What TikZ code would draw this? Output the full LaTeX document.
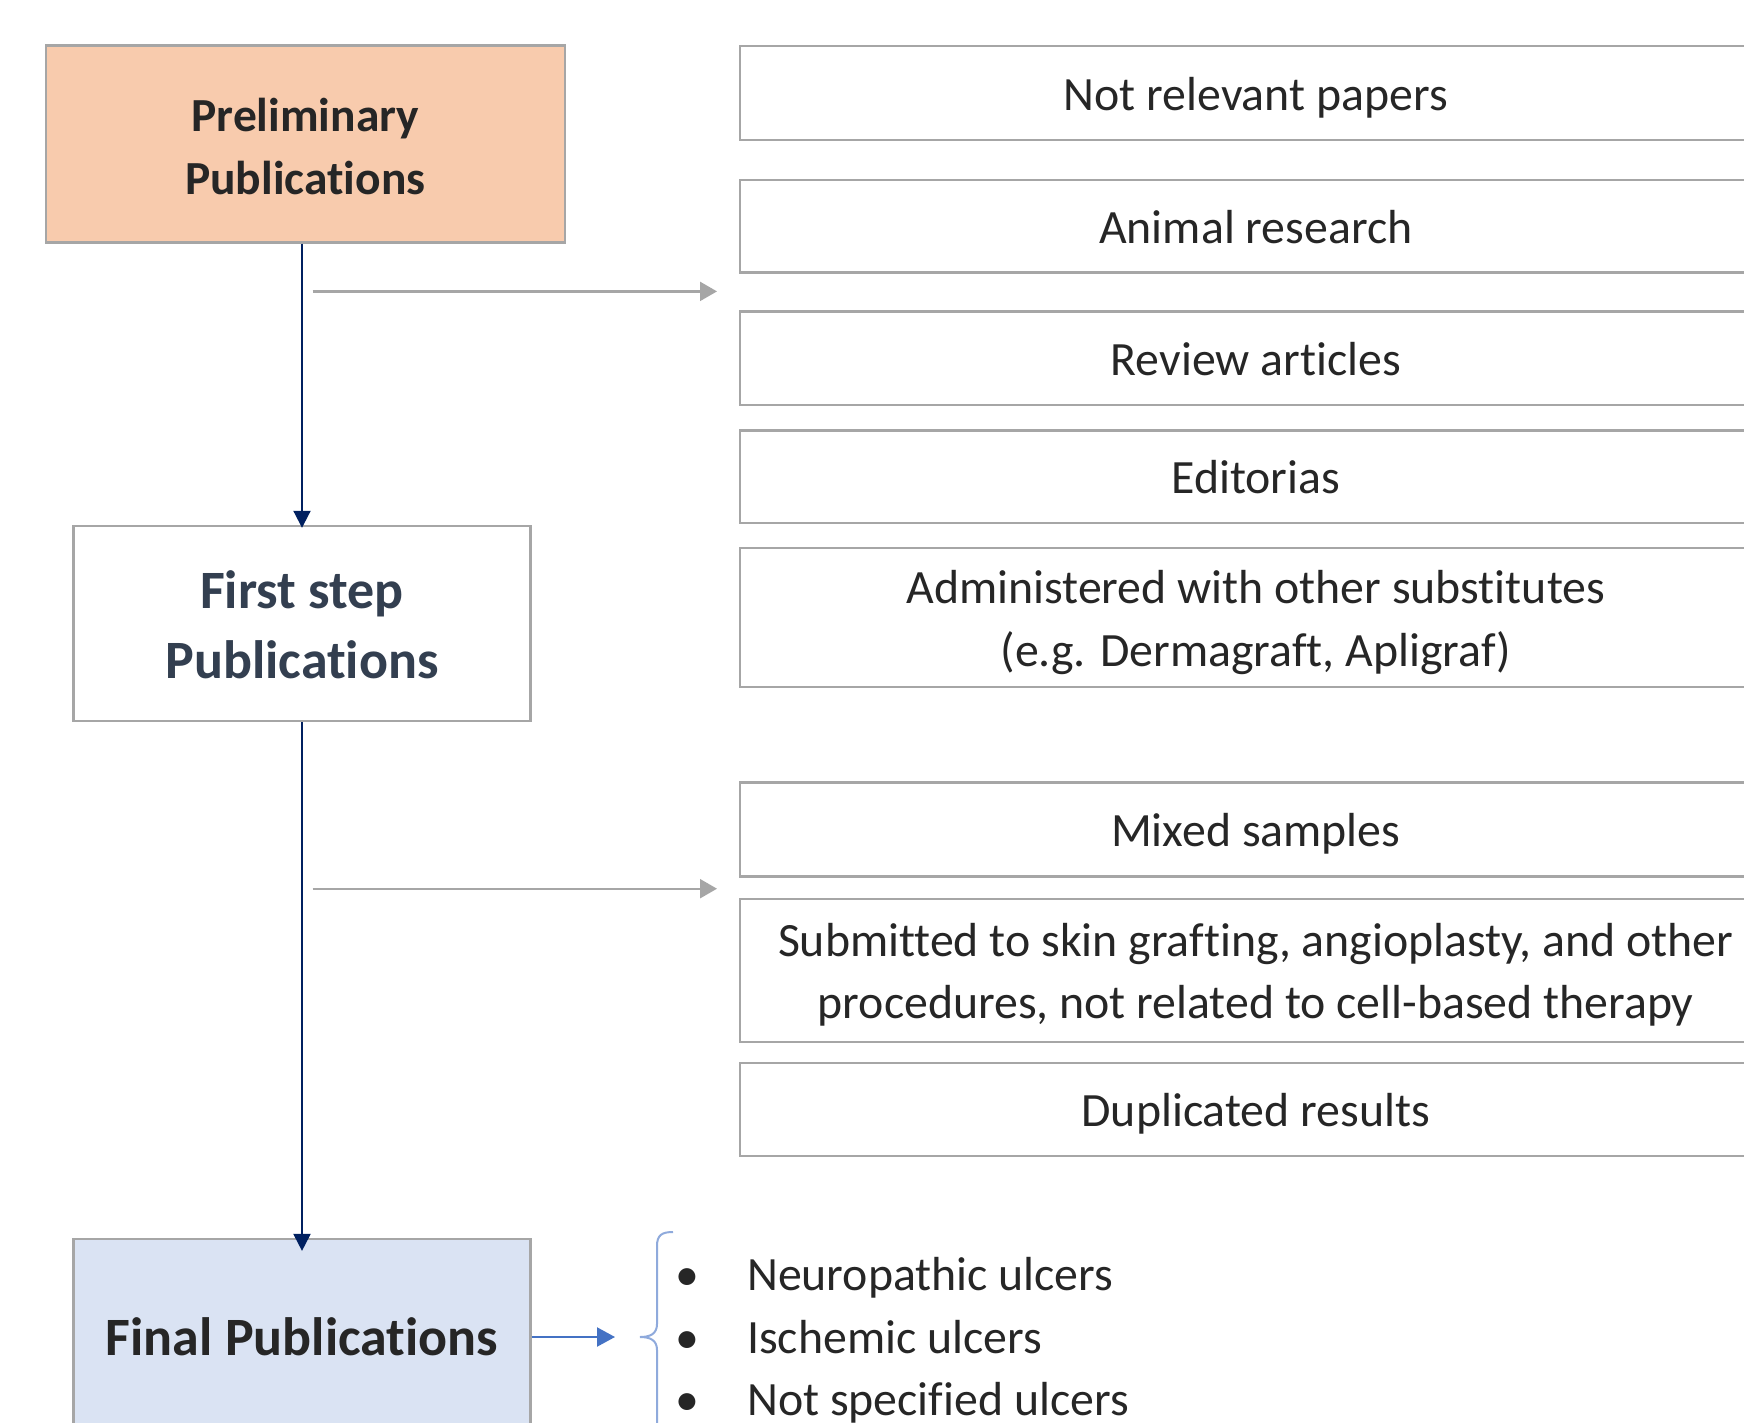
\documentclass[tikz,border=0pt]{standalone}
\usepackage{fontspec}
\setmainfont{Carlito}[Ligatures=NoCommon]
\usetikzlibrary{arrows.meta}
\definecolor{orfill}{HTML}{F8CBAD}
\definecolor{blfill}{HTML}{DAE3F3}
\definecolor{bordergray}{HTML}{A6A6A6}
\definecolor{navy}{HTML}{002060}
\definecolor{txt}{HTML}{262626}
\definecolor{txtnavy}{HTML}{333F50}
\definecolor{arrblue}{HTML}{4472C4}
\definecolor{bracebl}{HTML}{8FAADC}
\begin{document}
\begin{tikzpicture}[x=1pt,y=-1pt,
  boxstyle/.style={draw=bordergray, line width=2.2pt, inner sep=0pt, align=center, text=txt},
  rbox/.style={boxstyle, fill=white, minimum width=1032pt, font=\fontsize{47.8}{62.5}\selectfont,
               text height=42.3pt, text depth=7.8pt},
  rboxtwo/.style={rbox, text height=104.3pt, text depth=7.8pt},
  navyarrow/.style={draw=navy, line width=2pt, -{Triangle[width=17pt,length=17pt]}},
  grayarrow/.style={draw=bordergray, line width=2.2pt, -{Triangle[width=19pt,length=17pt]}},
  bluearrow/.style={draw=arrblue, line width=2.2pt, -{Triangle[width=19pt,length=18pt]}},
  bullettext/.style={anchor=base west, inner sep=0pt, text=txt, font=\fontsize{47.8}{62.5}\selectfont},
  bulletdot/.style={anchor=base, inner sep=0pt, text=txt, font=\fontsize{47.8}{62.5}\selectfont}
]
\useasboundingbox (0,0) rectangle (1744,1423);
\clip (0,0) rectangle (1744,1423);
\fill[white] (0,0) rectangle (1744,1423);

% left column
\node[boxstyle, fill=orfill, minimum width=519pt, minimum height=197pt,
      font=\bfseries\fontsize{47.5}{63}\selectfont, text height=105.2pt, text depth=5pt]
      (prelim) at (305.3,144) {Preliminary\\Publications};
\node[boxstyle, fill=white, minimum width=457pt, minimum height=195pt, text=txtnavy,
      font=\bfseries\fontsize{54}{70}\selectfont, text height=114.3pt, text depth=5pt]
      (first) at (302,623.4) {First step\\Publications};
\node[boxstyle, fill=blfill, minimum width=457pt, minimum height=196pt,
      font=\bfseries\fontsize{54}{70}\selectfont] (final) at (302,1337) {Final Publications};

% right column
\node[rbox, minimum height=94.5pt] (r1) at (1255.75,92.9) {Not relevant papers};
\node[rbox, minimum height=92.3pt] (r2) at (1255.75,226.4) {Animal research};
\node[rbox, minimum height=93.4pt] (r3) at (1255.75,358.1) {Review articles};
\node[rbox, minimum height=92.3pt] (r4) at (1255.75,476.6) {Editorias};
\node[rboxtwo, minimum height=139pt] (r5) at (1255.75,617.8) {Administered with other substitutes\\(e.g. Dermagraft, Apligraf)};
\node[rbox, minimum height=94pt] (r6) at (1255.75,829.4) {Mixed samples};
\node[rboxtwo, minimum height=143.5pt] (r7) at (1255.75,970.4) {Submitted to skin grafting, angioplasty, and other\\procedures, not related to cell-based therapy};
\node[rbox, minimum height=92.3pt] (r8) at (1255.75,1109.5) {Duplicated results};

% navy arrows
\draw[navyarrow] (prelim.south -| first.north) -- ([yshift=-3pt]first.north);
\draw[navyarrow] (first.south) -- ([yshift=-13pt]final.north);

% gray arrows
\coordinate (g1s) at (312.5,291.4);
\coordinate (g1e) at (717,291.4);
\coordinate (g2s) at (312.5,888.7);
\coordinate (g2e) at (717,888.7);
\draw[grayarrow] (g1s) -- (g1e);
\draw[grayarrow] (g2s) -- (g2e);

% final arrow and brace
\coordinate (brtip) at (640,1337);
\draw[bluearrow] (final.east) -- ([xshift=-25pt]brtip);
\draw[draw=bracebl, line width=2pt]
  (673,1232) .. controls (662,1232) and (657,1235) .. (657,1246)
  -- (657,1324) .. controls (657,1334) and (650,1337) .. (brtip)
  (brtip) .. controls (650,1337) and (657,1340) .. (657,1350)
  -- (657,1440);

% bullet list
\node[bulletdot] (b1) at (687,1290) {\textbullet};
\node[bulletdot] (b2) at (687,1353) {\textbullet};
\node[bulletdot] (b3) at (687,1415) {\textbullet};
\node[bullettext] (t1) at (747,1290) {Neuropathic ulcers};
\node[bullettext] (t2) at (747,1353) {Ischemic ulcers};
\node[bullettext] (t3) at (747,1415) {Not specified ulcers};
\end{tikzpicture}
\end{document}
